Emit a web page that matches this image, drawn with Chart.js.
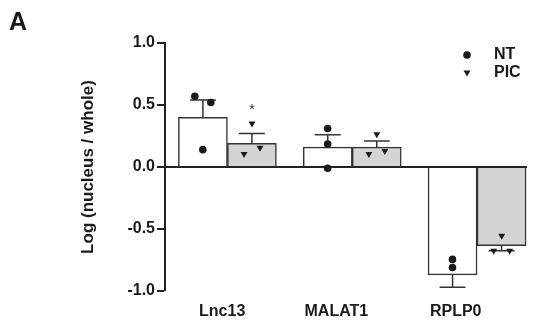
<!DOCTYPE html>
<html>
<head>
<meta charset="utf-8">
<script src="https://cdn.jsdelivr.net/npm/chart.js@4/dist/chart.umd.min.js"></script>
<style>
  html, body { margin: 0; padding: 0; background: #fff; }
  #wrap { width: 533px; height: 329px; }
</style>
</head>
<body>
<div id="wrap"><canvas id="c" width="533" height="329"></canvas></div>
<script>
// ---- data ----
const categories = ['Lnc13', 'MALAT1', 'RPLP0'];
const ntMean = [0.40, 0.16, -0.87];
const ntSem = [0.14, 0.10, 0.10];
const picMean = [0.19, 0.16, -0.635];
const picSem = [0.08, 0.05, 0.04];
const ntPoints = [[0.57, 0.52, 0.14], [0.31, 0.185, -0.01], [-0.745, -0.81, -1.04]];
const picPoints = [[0.35, 0.105, 0.155], [0.265, 0.105, 0.13], [-0.555, -0.675, -0.675]];
const significance = ['*', '', ''];
const yMin = -1.0, yMax = 1.0, yStep = 0.5;

// ---- layout only ----
const barPx = 49;                     // bar thickness in pixels
const barHalf = 0.197;                // centre offset of each bar, in x units
const jitterStep = 0.064;             // sideways spread of overlapping dots
const ntJitter = [[-1, 1, 0], [0, 0, 0], [0, 0, 0]];
const picJitter = [[0, -1, 1], [0, -1, 1], [0, -1, 1]];
const labelPos = [0.458, 1.373, 2.329];
const INK = '#1a1a1a';
const FONT = '"Liberation Sans", Arial, sans-serif';

Chart.defaults.font.family = FONT;
Chart.defaults.color = INK;

function barData(means) {
    return means.map((m, i) => ({ x: i + 0.5, y: m }));
}

function pointData(points, jitter, side) {
    const out = [];
    points.forEach((vals, i) => {
        vals.forEach((v, k) => {
            out.push({ x: i + 0.5 + side * barHalf + jitter[i][k] * jitterStep, y: v });
        });
    });
    return out;
}

const semByLabel = { NT: ntSem, PIC: picSem };

// error bars right after each bar dataset, so dots sit on top
const errorBars = {
    id: 'errorBars',
    afterDatasetDraw(chart, args) {
        const ds = chart.data.datasets[args.index];
        if (ds.type !== 'bar') return;
        const sems = semByLabel[ds.label];
        const y = chart.scales.y;
        const ctx = chart.ctx;
        ctx.save();
        ctx.strokeStyle = '#333';
        ctx.lineWidth = 1.5;
        args.meta.data.forEach((bar, i) => {
            const m = ds.data[i].y;
            const yEnd = y.getPixelForValue(m + Math.sign(m) * sems[i]);
            ctx.beginPath();
            ctx.moveTo(bar.x, bar.y);
            ctx.lineTo(bar.x, yEnd);
            ctx.moveTo(bar.x - 13, yEnd);
            ctx.lineTo(bar.x + 13, yEnd);
            ctx.stroke();
        });
        ctx.restore();
    }
};

const extras = {
    id: 'extras',
    afterDatasetsDraw(chart) {
        const ctx = chart.ctx;
        const { x, y } = chart.scales;
        const area = chart.chartArea;
        ctx.save();

        // significance marks above the PIC dots
        ctx.fillStyle = '#333';
        ctx.font = '14px ' + FONT;
        ctx.textAlign = 'center';
        ctx.textBaseline = 'alphabetic';
        significance.forEach((s, i) => {
            if (!s) return;
            const top = Math.max(...picPoints[i]);
            ctx.fillText(s, x.getPixelForValue(i + 0.5 + barHalf), y.getPixelForValue(top) - 10);
        });

        // legend
        const lx = area.right - 60;
        const tx = area.right - 33;
        const ly1 = area.top + 12, ly2 = area.top + 30;
        ctx.fillStyle = INK;
        ctx.beginPath();
        ctx.arc(lx, ly1, 3.8, 0, Math.PI * 2);
        ctx.fill();
        ctx.beginPath();
        ctx.moveTo(lx - 3.5, ly2 - 2.5);
        ctx.lineTo(lx + 3.5, ly2 - 2.5);
        ctx.lineTo(lx, ly2 + 3.5);
        ctx.closePath();
        ctx.fill();
        ctx.font = 'bold 16px ' + FONT;
        ctx.textAlign = 'left';
        ctx.textBaseline = 'middle';
        ctx.fillText('NT', tx, ly1);
        ctx.fillText('PIC', tx, ly2);

        // panel letter
        ctx.font = 'bold 25px ' + FONT;
        ctx.textBaseline = 'alphabetic';
        ctx.fillText('A', 9, 30);
        ctx.restore();
    }
};

new Chart(document.getElementById('c'), {
    type: 'bar',
    data: {
        datasets: [
            {
                type: 'scatter', label: 'NT dots', order: 0,
                data: pointData(ntPoints, ntJitter, -1),
                pointStyle: 'circle', pointRadius: 3.8, pointHoverRadius: 3.8,
                backgroundColor: INK, borderWidth: 0
            },
            {
                type: 'scatter', label: 'PIC dots', order: 0,
                data: pointData(picPoints, picJitter, 1),
                pointStyle: 'triangle', rotation: 180, pointRadius: 4, pointHoverRadius: 4,
                backgroundColor: INK, borderWidth: 0
            },
            {
                type: 'bar', label: 'NT', order: 2,
                data: barData(ntMean),
                backgroundColor: '#ffffff', borderColor: '#333', borderWidth: 1.5,
                barThickness: barPx
            },
            {
                type: 'bar', label: 'PIC', order: 2,
                data: barData(picMean),
                backgroundColor: '#d4d4d4', borderColor: '#333', borderWidth: 1.5,
                barThickness: barPx
            }
        ]
    },
    options: {
        responsive: false,
        animation: false,
        layout: { padding: { left: 70, right: 6, top: 43, bottom: 0 } },
        plugins: { legend: { display: false }, tooltip: { enabled: false } },
        scales: {
            x: {
                type: 'linear',
                min: 0,
                max: 2.9,
                offset: false,
                grid: { display: false, drawTicks: false, offset: false },
                border: { display: false },
                afterBuildTicks: (scale) => { scale.ticks = labelPos.map(v => ({ value: v })); },
                afterFit: (scale) => { scale.height = 38; },
                ticks: {
                    autoSkip: false,
                    maxRotation: 0,
                    padding: 11,
                    color: INK,
                    font: { size: 16, weight: 'bold' },
                    callback: (v, i) => categories[i]
                }
            },
            y: {
                min: yMin,
                max: yMax,
                afterFit: (scale) => { scale.width = 95; },
                ticks: {
                    stepSize: yStep,
                    padding: 2,
                    color: INK,
                    font: { size: 16, weight: 'bold' },
                    callback: (v) => v.toFixed(1)
                },
                grid: {
                    color: '#222',
                    lineWidth: (c) => (c.tick && c.tick.value === 0 ? 2 : 0),
                    tickColor: '#222',
                    tickWidth: 2,
                    tickLength: 8
                },
                border: { display: true, color: '#222', width: 2 },
                title: {
                    display: true,
                    text: 'Log (nucleus / whole)',
                    color: INK,
                    font: { size: 17, weight: 'bold' },
                    padding: { top: 8, bottom: 0 }
                }
            }
        }
    },
    plugins: [errorBars, extras]
});
</script>
</body>
</html>
